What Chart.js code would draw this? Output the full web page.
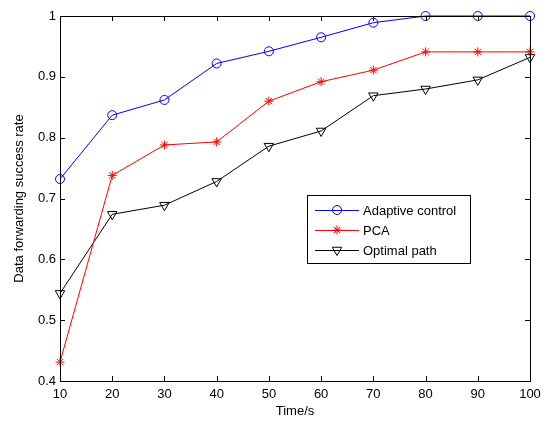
<!DOCTYPE html>
<html>
<head>
<meta charset="utf-8">
<script src="https://cdn.jsdelivr.net/npm/chart.js@4/dist/chart.umd.min.js"></script>
<style>
  html, body { margin: 0; padding: 0; background: #fff; }
  #wrap { width: 542px; height: 421px; position: relative; }
</style>
</head>
<body>
<div id="wrap"><canvas id="myChart" width="542" height="421"></canvas></div>
<script>
// time axis (s)
var times = [10, 20, 30, 40, 50, 60, 70, 80, 90, 100];
// success rates
var adaptive = [0.732, 0.837, 0.862, 0.922, 0.942, 0.965, 0.989, 1.0, 1.0, 1.0];
var pca = [0.431, 0.738, 0.788, 0.793, 0.860, 0.892, 0.911, 0.941, 0.941, 0.941];
var optimal = [0.544, 0.674, 0.689, 0.728, 0.786, 0.811, 0.869, 0.880, 0.895, 0.932];
var xTicks = [10, 20, 30, 40, 50, 60, 70, 80, 90, 100];
var yTicks = [0.4, 0.5, 0.6, 0.7, 0.8, 0.9, 1];

var FONT = 'Arial, "Liberation Sans", sans-serif';

function pts(ys) {
    return times.map((t, i) => ({ x: t, y: ys[i] }));
}

// box + inward ticks like matlab, plus the legend inside the plot
const boxPlugin = {
    id: 'box',
    afterDraw: function (chart) {
        const ctx = chart.ctx;
        const a = chart.chartArea;
        const xs = chart.scales.x, ys = chart.scales.y;
        ctx.save();
        ctx.strokeStyle = '#000';
        ctx.lineWidth = 1;
        ctx.strokeRect(Math.round(a.left) + 0.5, Math.round(a.top) + 0.5,
            Math.round(a.right - a.left), Math.round(a.bottom - a.top));
        ctx.beginPath();
        xTicks.forEach(v => {
            const px = Math.round(xs.getPixelForValue(v)) + 0.5;
            ctx.moveTo(px, a.bottom); ctx.lineTo(px, a.bottom - 5);
            ctx.moveTo(px, a.top); ctx.lineTo(px, a.top + 5);
        });
        yTicks.forEach(v => {
            const py = Math.round(ys.getPixelForValue(v)) + 0.5;
            ctx.moveTo(a.left, py); ctx.lineTo(a.left + 5, py);
            ctx.moveTo(a.right, py); ctx.lineTo(a.right - 5, py);
        });
        ctx.stroke();

        // legend
        const lx = 307, ly = 195, lw = 163, lh = 68;
        ctx.fillStyle = '#fff';
        ctx.fillRect(lx, ly, lw, lh);
        ctx.strokeRect(lx + 0.5, ly + 0.5, lw, lh);
        ctx.font = '13px ' + FONT;
        ctx.textBaseline = 'middle';
        chart.data.datasets.forEach((ds, i) => {
            const y = ly + 15 + i * 20;
            ctx.strokeStyle = ds.borderColor;
            ctx.beginPath();
            ctx.moveTo(315, y + 0.5); ctx.lineTo(359, y + 0.5);
            ctx.stroke();
            ctx.fillStyle = 'rgba(0,0,0,0)';
            Chart.helpers.drawPoint(ctx, {
                pointStyle: ds.pointStyle,
                radius: ds.pointRadius,
                rotation: ds.pointRotation || 0,
                borderWidth: 1
            }, 337, y);
            ctx.fillStyle = '#000';
            ctx.fillText(ds.label, 363, y + 1);
        });
        ctx.restore();
    }
};

const data = {
    datasets: [
        {
            label: 'Adaptive control',
            data: pts(adaptive),
            borderColor: '#0000ff',
            pointStyle: 'circle',
            pointRadius: 4.5,
        },
        {
            label: 'PCA',
            data: pts(pca),
            borderColor: '#ff0000',
            pointStyle: 'star',
            pointRadius: 4.5,
        },
        {
            label: 'Optimal path',
            data: pts(optimal),
            borderColor: '#000000',
            pointStyle: 'triangle',
            pointRotation: 180,
            pointRadius: 5.5,
        },
    ]
};
data.datasets.forEach(d => {
    d.borderWidth = 1;
    d.backgroundColor = 'rgba(0,0,0,0)';
    d.pointBorderWidth = 1;
    d.pointBorderColor = d.borderColor;
    d.pointBackgroundColor = 'rgba(0,0,0,0)';
    d.tension = 0;
    d.clip = false;
});

const myChart = new Chart(document.getElementById('myChart'), {
    type: 'line',
    data,
    plugins: [boxPlugin],
    options: {
        responsive: false,
        animation: false,
        layout: { padding: { left: 0, right: 12, top: 16, bottom: 0 } },
        plugins: {
            legend: { display: false },
            tooltip: { enabled: false }
        },
        scales: {
            x: {
                type: 'linear',
                min: 10,
                max: 100,
                afterBuildTicks: s => { s.ticks = xTicks.map(v => ({ value: v })); },
                afterFit: s => { s.height = 40; s.paddingLeft = 0; s.paddingRight = 0; },
                grid: { display: false, drawTicks: false },
                border: { display: false },
                ticks: { color: '#000', padding: 6, maxRotation: 0, font: { size: 13, family: FONT } },
                title: { display: true, text: 'Time/s', color: '#000', padding: { top: 0, bottom: 2 }, font: { size: 13, family: FONT } }
            },
            y: {
                min: 0.4,
                max: 1,
                afterBuildTicks: s => { s.ticks = yTicks.map(v => ({ value: v })); },
                afterFit: s => { s.width = 60; s.paddingTop = 0; s.paddingBottom = 0; },
                grid: { display: false, drawTicks: false },
                border: { display: false },
                ticks: {
                    color: '#000', padding: 4, font: { size: 13, family: FONT },
                    callback: v => String(Math.round(v * 10) / 10)
                },
                title: { display: true, text: 'Data forwarding success rate', color: '#000', padding: { top: 12, bottom: 0 }, font: { size: 13, family: FONT } }
            }
        }
    }
});
</script>
</body>
</html>
